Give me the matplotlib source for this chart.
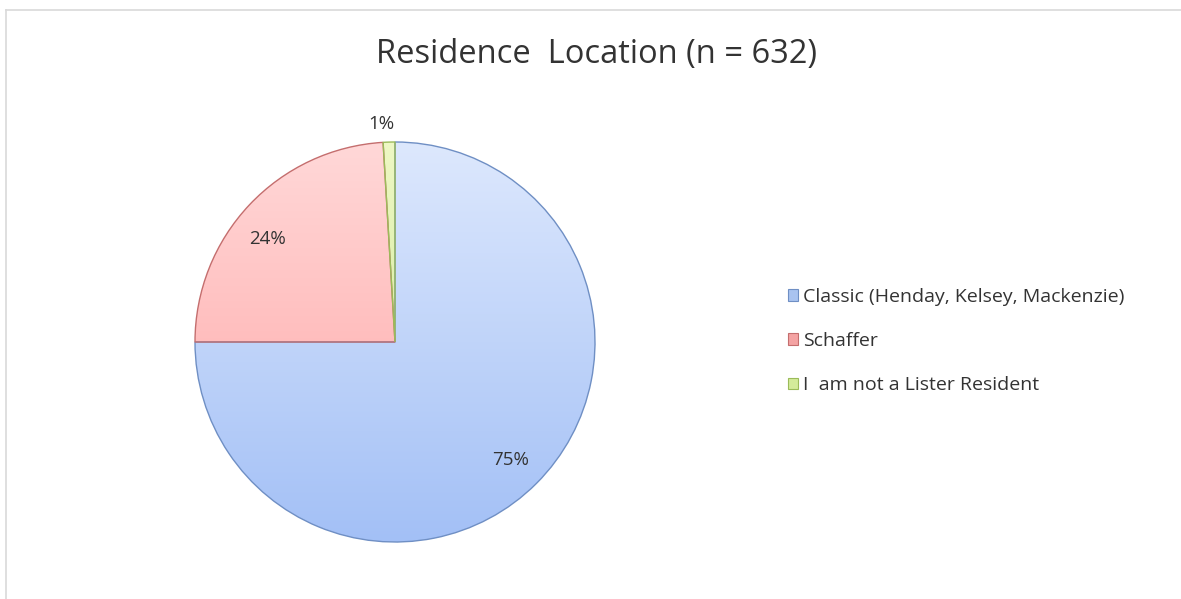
import numpy as np
import matplotlib
matplotlib.use("Agg")
import matplotlib.pyplot as plt
from matplotlib.patches import Patch
from matplotlib.colors import LinearSegmentedColormap
from matplotlib.lines import Line2D

plt.rcParams['font.family'] = ['Open Sans', 'DejaVu Sans']

#%% data
title = "Residence  Location (n = 632)"
labels = ["Classic (Henday, Kelsey, Mackenzie)", "Schaffer", "I  am not a Lister Resident"]
counts = [474, 152, 6]
pct_labels = ["75%", "24%", "1%"]

# gradient top/bottom colours and edge colours per slice
top_cols = ["#dde8fd", "#ffd8d8", "#eef8c4"]
bot_cols = ["#a3c0f6", "#ffa3a3", "#c7e38a"]
edge_cols = ["#6f8fc4", "#c46e6e", "#9bbb59"]
legend_cols = ["#a9c3f0", "#f4a3a3", "#d4eb9a"]

#%%
fig = plt.figure(figsize=(11.81, 5.99), dpi=100)

# light frame like the original chart area
fig.add_artist(Line2D([6/1181, 6/1181], [0, 1 - 10/599], transform=fig.transFigure, color="#d9d9d9", lw=1.2))
fig.add_artist(Line2D([6/1181, 1], [1 - 10/599, 1 - 10/599], transform=fig.transFigure, color="#d9d9d9", lw=1.2))

ax = fig.add_axes([195/1181, 57/599, 400/1181, 400/599])
wedges, _ = ax.pie(counts, startangle=90, counterclock=False, radius=1,
                   wedgeprops=dict(linewidth=1.0))
grad = np.linspace(0, 1, 256).reshape(-1, 1)
for w, t, b, e in zip(wedges, top_cols, bot_cols, edge_cols):
    w.set_facecolor("none")
    w.set_edgecolor(e)
    w.set_zorder(3)
    cmap = LinearSegmentedColormap.from_list("g", [t, b])
    im = ax.imshow(grad, extent=(-1, 1, -1, 1), cmap=cmap, origin="upper", aspect="auto", zorder=2)
    im.set_clip_path(w)

# percentage labels
dists = [0.82, 0.82, 1.1]
shifts = [(0, -0.01), (-0.04, -0.045), (-0.035, -0.01)]
for w, lab, d, (sx, sy) in zip(wedges, pct_labels, dists, shifts):
    ang = np.deg2rad((w.theta1 + w.theta2) / 2)
    x, y = d * np.cos(ang) + sx, d * np.sin(ang) + sy
    ax.text(x, y, lab, ha="center", va="center", fontsize=13.5, color="#333333")

ax.set_xlim(-1, 1)
ax.set_ylim(-1, 1)
ax.set_aspect("auto")
ax.axis("off")

fig.text(597/1181, 1 - 55/599, title, ha="center", va="center", fontsize=23.5, color="#333333")

handles = [Patch(facecolor=c, edgecolor=e, lw=0.8) for c, e in zip(legend_cols, edge_cols)]
fig.legend(handles, labels, loc="center left", bbox_to_anchor=(770/1181, 1 - 341/599),
           frameon=False, fontsize=14, handlelength=0.55, handleheight=0.55,
           handletextpad=0.25, labelspacing=1.35, labelcolor="#333333")

fig.savefig("out.png", dpi=100, facecolor="white")
